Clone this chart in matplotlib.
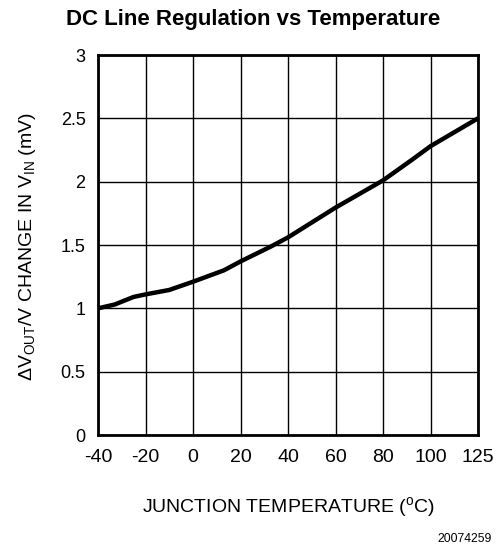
import matplotlib
matplotlib.use("Agg")
import matplotlib.pyplot as plt
import numpy as np

plt.rcParams['font.family'] = ['Liberation Sans', 'DejaVu Sans']
plt.rcParams['mathtext.fontset'] = 'custom'
plt.rcParams['mathtext.rm'] = 'Liberation Sans'
plt.rcParams['mathtext.it'] = 'Liberation Sans'

temps = [-40, -33, -25, -20, -10, 0, 13, 20, 33, 40, 60, 80, 92, 100, 125]
values = [1.0, 1.03, 1.09, 1.11, 1.145, 1.21, 1.30, 1.37, 1.49, 1.56, 1.795, 2.01, 2.17, 2.28, 2.5]
xticks = [-40, -20, 0, 20, 40, 60, 80, 100, 125]
yticks = [0, 0.5, 1, 1.5, 2, 2.5, 3]
ytick_labels = ['0', '0.5', '1', '1.5', '2', '2.5', '3']

# evenly spaced grid: last interval (100..125) drawn as wide as the others
src = np.array([-40, 100, 125], dtype=float)
dst = np.array([-40, 100, 120], dtype=float)
def fwd(x):
    return np.interp(x, src, dst)
def inv(x):
    return np.interp(x, dst, src)

fig = plt.figure(figsize=(5.04, 5.48), dpi=100)
ax = fig.add_axes([98/504, 1-435/548, 380/504, 380/548])
ax.set_xscale('function', functions=(fwd, inv))
ax.plot(temps, values, color='black', lw=3.2, solid_capstyle='round')
ax.set_xlim(-40, 125)
ax.set_ylim(0, 3)
ax.set_xticks(xticks)
ax.set_xticklabels([str(t) for t in xticks])
ax.set_yticks(yticks)
ax.set_yticklabels(ytick_labels)
ax.minorticks_off()
ax.grid(True, color='black', lw=1.0)
ax.tick_params(axis='x', length=0, labelsize=14, pad=10)
ax.tick_params(axis='y', length=0, labelsize=13, pad=9)
for s in ax.spines.values():
    s.set_linewidth(2.0)

fig.text(253/504, 1 - 20/548, 'DC Line Regulation vs Temperature',
         ha='center', va='center', fontsize=16, fontweight='bold')
fig.text(28/504, 1 - 247/548, r'$\Delta$V$_{\mathregular{OUT}}$/V CHANGE IN V$_{\mathregular{IN}}$ (mV)',
         rotation=90, ha='center', va='center', fontsize=14)
fig.text(288/504, 1 - 507/548, r'JUNCTION TEMPERATURE ($^{\mathregular{o}}$C)',
         ha='center', va='center', fontsize=14)
fig.text(492/504, 1 - 539/548, '20074259', ha='right', va='center', fontsize=8.7)

fig.savefig('out.png', dpi=100)
